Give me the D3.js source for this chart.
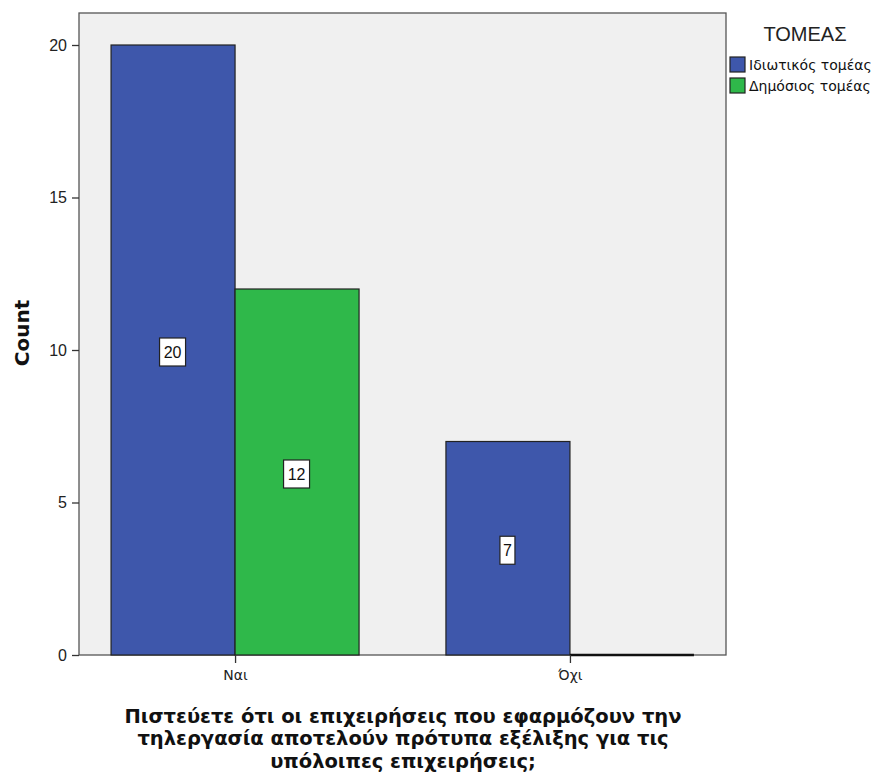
<!DOCTYPE html>
<html>
<head>
<meta charset="utf-8">
<script src="https://cdn.jsdelivr.net/npm/d3@7"></script>
<style>
  html, body { margin: 0; padding: 0; background: #ffffff; }
  svg { display: block; }
</style>
</head>
<body>
<div id="chart"></div>
<script>
// Answers and sector groups
const categories = ["Ναι", "Όχι"];
const sectors = ["Ιδιωτικός τομέας", "Δημόσιος τομέας"];
const privateCounts = [20, 7];
const publicCounts = [12, 0];
const yTicks = [0, 5, 10, 15, 20];
const legendTitle = "ΤΟΜΕΑΣ";
const yTitle = "Count";
const xTitleLines = [
  "Πιστεύετε ότι οι επιχειρήσεις που εφαρμόζουν την",
  "τηλεργασία αποτελούν πρότυπα εξέλιξης για τις",
  "υπόλοιπες επιχειρήσεις;"
];

const colors = ["#3e57ab", "#2fb84a"];
const W = 879, H = 774;
const plot = { left: 79, top: 13, right: 726, bottom: 655 };

const svg = d3.select("#chart").append("svg")
  .attr("width", W).attr("height", H)
  .style("font-family", "'Liberation Sans', Arial, sans-serif");

const x = d3.scalePoint()
  .domain(categories)
  .range([plot.left, plot.right])
  .padding(0.466);

const y = d3.scaleLinear()
  .domain([0, 20])
  .range([plot.bottom, 45]);

const barW = 124;
const seriesValues = [privateCounts, publicCounts];

// plot background and frame
svg.append("rect")
  .attr("x", plot.left).attr("y", plot.top)
  .attr("width", plot.right - plot.left).attr("height", plot.bottom - plot.top)
  .attr("fill", "#f0f0f0").attr("stroke", "#555").attr("stroke-width", 1.3);

// bars
const rows = [];
categories.forEach((c, i) => {
  sectors.forEach((s, j) => {
    rows.push({ cat: c, sector: j, value: seriesValues[j][i] });
  });
});

const bx = d => x(d.cat) + (d.sector === 0 ? -barW : 0);

svg.append("g").selectAll("rect")
  .data(rows.filter(d => d.value > 0))
  .join("rect")
  .attr("x", bx)
  .attr("y", d => y(d.value))
  .attr("width", barW)
  .attr("height", d => y(0) - y(d.value))
  .attr("fill", d => colors[d.sector])
  .attr("stroke", "#222").attr("stroke-width", 1.2);

// zero-height bars show as a thick line on the baseline
svg.append("g").selectAll("line")
  .data(rows.filter(d => d.value === 0))
  .join("line")
  .attr("x1", bx).attr("x2", d => bx(d) + barW)
  .attr("y1", y(0)).attr("y2", y(0))
  .attr("stroke", "#111").attr("stroke-width", 2.5);

// value labels in boxes
const lab = svg.append("g").selectAll("g")
  .data(rows.filter(d => d.value > 0))
  .join("g")
  .attr("transform", d => `translate(${bx(d) + barW / 2 - 0.5},${(y(d.value) + y(0)) / 2 + 2})`);

lab.append("rect")
  .attr("x", d => d.value >= 10 ? -13 : -7.5)
  .attr("y", -14)
  .attr("width", d => d.value >= 10 ? 26 : 15)
  .attr("height", 28)
  .attr("fill", "#fff").attr("stroke", "#222").attr("stroke-width", 1.2);

lab.append("text")
  .attr("text-anchor", "middle").attr("dy", "0.36em")
  .attr("font-size", 16).attr("fill", "#111")
  .text(d => d.value);

// y axis
const yAxis = svg.append("g")
  .attr("transform", `translate(${plot.left},0)`)
  .call(d3.axisLeft(y).tickValues(yTicks).tickSize(7).tickPadding(5).tickSizeOuter(0));
yAxis.select(".domain").remove();
yAxis.selectAll("line").attr("stroke", "#333").attr("stroke-width", 1.3);
yAxis.selectAll("text").attr("font-size", 16).attr("fill", "#222")
  .attr("font-family", "'Liberation Sans', Arial, sans-serif");

// x axis
const xAxis = svg.append("g")
  .attr("transform", `translate(0,${plot.bottom})`)
  .call(d3.axisBottom(x).tickSize(8).tickPadding(7).tickSizeOuter(0));
xAxis.select(".domain").remove();
xAxis.selectAll("line").attr("stroke", "#333").attr("stroke-width", 1.3);
xAxis.selectAll("text").attr("font-size", 14).attr("fill", "#222")
  .attr("font-family", "'DejaVu Sans', Verdana, sans-serif");

// axis titles
svg.append("text")
  .attr("transform", "translate(29,333) rotate(-90)")
  .attr("text-anchor", "middle")
  .attr("font-family", "'DejaVu Sans', Verdana, sans-serif")
  .attr("font-size", 20).attr("font-weight", "bold").attr("fill", "#111")
  .text(yTitle);

svg.append("g").selectAll("text")
  .data(xTitleLines)
  .join("text")
  .attr("x", 403)
  .attr("y", (d, i) => 723 + i * 22.3)
  .attr("text-anchor", "middle")
  .attr("font-family", "'DejaVu Sans', Verdana, sans-serif")
  .attr("font-size", 19.5).attr("font-weight", "bold").attr("fill", "#111")
  .text(d => d);

// legend
svg.append("text")
  .attr("x", 805).attr("y", 41)
  .attr("text-anchor", "middle")
  .attr("font-size", 20).attr("fill", "#222")
  .text(legendTitle);

const leg = svg.append("g").selectAll("g")
  .data(sectors)
  .join("g")
  .attr("transform", (d, i) => `translate(730,${57 + i * 21})`);
leg.append("rect")
  .attr("width", 15).attr("height", 15)
  .attr("fill", (d, i) => colors[i]).attr("stroke", "#222").attr("stroke-width", 1.2);
leg.append("text")
  .attr("x", 19).attr("y", 8).attr("dy", "0.36em")
  .attr("font-family", "'DejaVu Sans', Verdana, sans-serif")
  .attr("font-size", 14).attr("fill", "#111")
  .text(d => d);
</script>
</body>
</html>
